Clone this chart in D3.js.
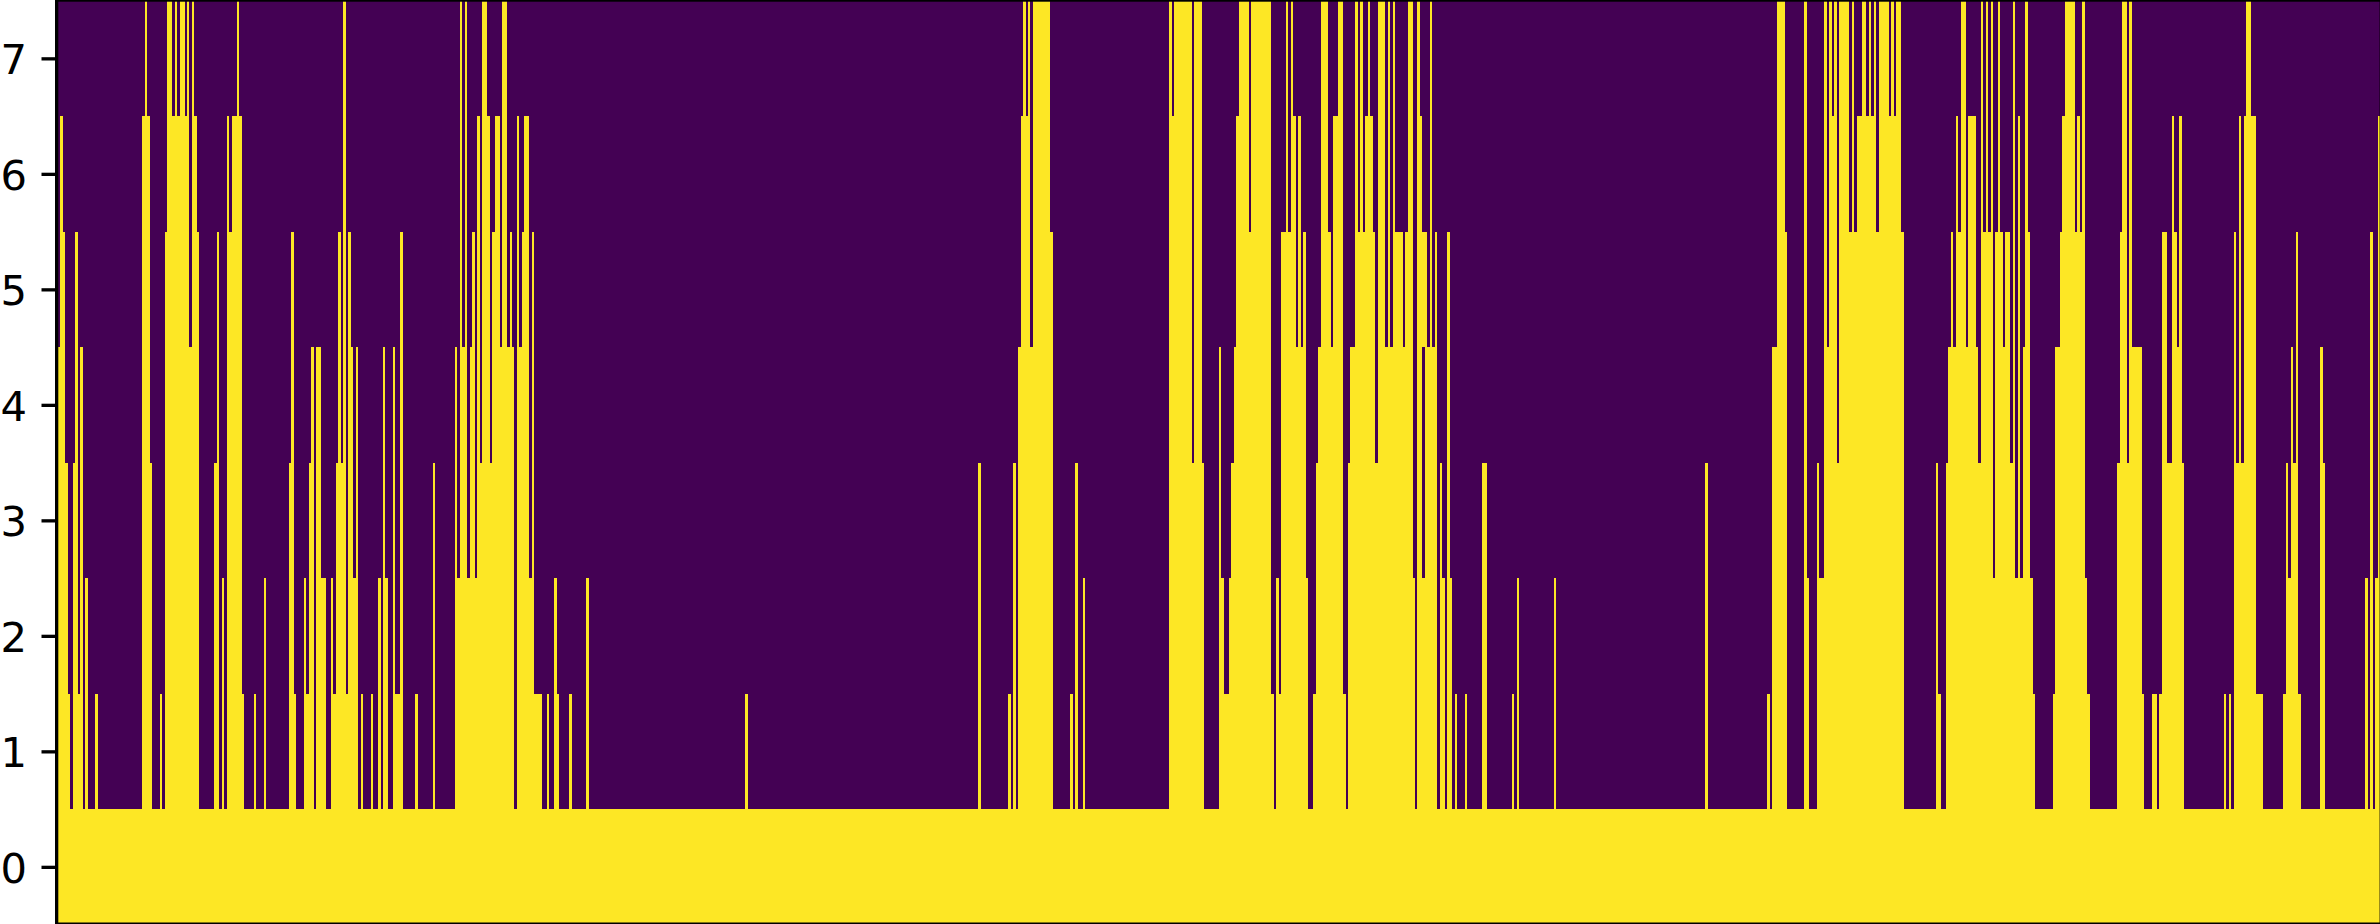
<!DOCTYPE html>
<html>
<head>
<meta charset="utf-8">
<script src="https://cdn.jsdelivr.net/npm/d3@7"></script>
<style>
html,body{margin:0;padding:0;background:#fff;overflow:hidden}
svg{display:block}
</style>
</head>
<body>
<div id="chart"></div>
<script>
// Binary matrix: number of columns, and for each row the runs [first, end) of "on" columns.
const columnCount = 936;
const rowTicks = [0,1,2,3,4,5,6,7];
const offOnColors = ["#440154","#fde725"];

const row0 = [[0,936]];
const row1 = [[0,5],[6,10],[11,12],[15,16],[34,38],[41,42],[43,57],[63,65],[66,67],[68,75],[79,80],[83,84],[93,96],[99,103],[104,108],[110,121],[122,123],[126,127],[129,130],[131,133],[135,139],[144,145],[151,152],[160,184],[185,195],[197,198],[200,202],[206,207],[213,214],[277,278],[371,372],[383,384],[385,386],[387,401],[408,409],[410,411],[413,414],[448,462],[468,490],[491,504],[506,519],[520,547],[548,556],[557,559],[560,562],[563,564],[567,568],[574,576],[586,587],[588,589],[603,604],[664,665],[689,690],[691,697],[704,706],[709,744],[757,759],[761,797],[804,819],[830,841],[844,846],[847,857],[873,874],[875,876],[877,889],[897,904],[912,914],[930,931],[932,933],[934,936]];
const row2 = [[0,4],[6,8],[9,10],[11,12],[34,38],[43,57],[63,65],[66,67],[68,74],[83,84],[93,95],[99,100],[101,103],[104,108],[110,111],[112,116],[117,121],[129,130],[131,133],[135,136],[138,139],[151,152],[160,184],[185,192],[200,201],[213,214],[371,372],[385,386],[387,401],[410,411],[413,414],[448,462],[468,470],[472,489],[491,492],[493,504],[507,518],[520,547],[548,556],[557,559],[560,562],[574,576],[588,589],[603,604],[664,665],[691,697],[704,706],[709,744],[757,758],[761,796],[805,818],[830,840],[848,857],[877,886],[898,903],[912,914],[930,931],[932,933],[934,936]];
const row3 = [[0,4],[6,8],[9,10],[34,38],[43,57],[63,65],[68,74],[93,95],[101,103],[104,106],[112,116],[117,119],[120,121],[131,132],[135,136],[138,139],[151,152],[160,161],[162,165],[166,168],[169,184],[185,190],[191,192],[371,372],[385,386],[387,401],[410,411],[448,462],[468,469],[473,489],[493,503],[507,518],[520,546],[548,550],[551,556],[557,558],[560,561],[574,576],[664,665],[691,697],[704,705],[709,710],[712,744],[757,758],[761,780],[781,789],[790,791],[792,795],[805,817],[830,840],[848,857],[877,886],[898,899],[900,903],[912,914],[932,933],[935,936]];
const row4 = [[0,3],[7,8],[9,10],[34,37],[43,57],[64,65],[68,74],[94,95],[102,103],[104,106],[113,114],[115,116],[117,119],[120,121],[131,132],[135,136],[138,139],[160,161],[162,165],[166,168],[169,170],[171,174],[175,184],[185,190],[191,192],[387,401],[448,457],[458,461],[468,469],[474,489],[493,503],[508,518],[521,531],[532,546],[548,550],[551,556],[560,561],[691,697],[704,705],[712,717],[718,744],[762,774],[775,780],[781,787],[788,789],[790,791],[792,795],[805,817],[831,834],[835,840],[848,850],[852,856],[877,878],[879,880],[881,886],[900,901],[902,903],[912,913],[932,933],[935,936]];
const row5 = [[1,3],[7,8],[34,37],[43,53],[54,57],[64,65],[68,74],[94,95],[113,114],[115,116],[117,118],[138,139],[162,163],[164,165],[167,168],[169,170],[171,174],[175,178],[179,181],[182,183],[185,186],[187,190],[191,192],[388,392],[393,401],[448,457],[458,461],[475,489],[493,499],[500,501],[502,503],[509,513],[514,518],[523,531],[532,535],[536,537],[538,542],[543,546],[548,552],[553,554],[555,556],[560,561],[693,697],[704,705],[712,713],[714,717],[718,744],[763,764],[765,769],[770,773],[775,780],[781,784],[785,787],[788,789],[790,791],[793,795],[807,817],[831,834],[835,836],[848,850],[852,854],[855,856],[877,878],[879,880],[881,886],[902,903],[932,933],[935,936]];
const row6 = [[1,2],[34,37],[44,53],[54,56],[68,69],[70,74],[115,116],[162,163],[164,165],[169,170],[171,174],[176,178],[179,181],[185,186],[188,190],[388,392],[393,400],[448,457],[458,461],[475,480],[481,489],[495,496],[497,499],[500,501],[509,512],[514,518],[523,524],[525,526],[527,530],[532,535],[536,537],[538,539],[544,546],[548,550],[553,554],[693,696],[704,705],[712,713],[714,717],[718,722],[723,724],[725,733],[734,743],[765,766],[767,769],[770,773],[775,776],[777,778],[779,780],[782,783],[788,789],[790,791],[793,794],[808,813],[814,815],[816,817],[832,834],[835,836],[852,853],[855,856],[879,880],[881,886],[935,936]];
const row7 = [[35,36],[44,46],[47,48],[49,51],[52,53],[54,55],[72,73],[115,116],[162,163],[164,165],[171,173],[179,181],[389,390],[391,392],[393,400],[448,449],[450,457],[458,461],[476,480],[481,489],[495,496],[497,498],[509,512],[516,518],[523,524],[525,526],[528,529],[532,535],[536,537],[538,539],[544,546],[548,549],[553,554],[693,696],[704,705],[712,713],[714,715],[716,717],[718,722],[723,724],[727,729],[730,731],[732,733],[734,738],[739,740],[741,743],[767,769],[775,776],[777,778],[779,780],[782,783],[788,789],[793,794],[809,813],[816,817],[832,834],[835,836],[882,884]];

const rows = [row0,row1,row2,row3,row4,row5,row6,row7];

const W = 2380, H = 924;
const x = d3.scaleLinear().domain([0, columnCount]).range([58, 2380]);
const y = d3.scaleLinear().domain([-0.5, 7.5]).range([924.6, 0.6]);
const color = d3.scaleOrdinal().domain([0,1]).range(offOnColors);

const svg = d3.select("#chart").append("svg").attr("width", W).attr("height", H);

// off background
svg.append("rect")
  .attr("x", x(0)).attr("y", y(7.5))
  .attr("width", x(columnCount) - x(0)).attr("height", y(-0.5) - y(7.5))
  .attr("fill", color(0));

// on cells
const cells = rows.flatMap((runs, r) => runs.map(([a, b]) => ({r, a, b})));
svg.append("g").attr("shape-rendering", "crispEdges")
  .selectAll("rect").data(cells).join("rect")
  .attr("x", d => x(d.a))
  .attr("width", d => x(d.b) - x(d.a))
  .attr("y", d => y(d.r + 0.5))
  .attr("height", d => y(d.r - 0.5) - y(d.r + 0.5))
  .attr("fill", color(1));

// spines
const spine = 3.3;
const spines = svg.append("g").attr("fill", "#000");
spines.append("rect").attr("x", 55).attr("y", 0).attr("width", spine).attr("height", H);
spines.append("rect").attr("x", 55).attr("y", -1.6).attr("width", W).attr("height", spine);
spines.append("rect").attr("x", 55).attr("y", H - 1.5).attr("width", W).attr("height", spine);
spines.append("rect").attr("x", W - 0.4).attr("y", 0).attr("width", spine).attr("height", H);

// y axis
const axis = d3.axisLeft(y).tickValues(rowTicks).tickFormat(d3.format("d"))
  .tickSize(14.6).tickPadding(14.6);
const gy = svg.append("g").attr("transform", "translate(56.1,0)").call(axis);
gy.select(".domain").remove();
gy.selectAll(".tick line").attr("stroke", "#000").attr("stroke-width", 3.3);
gy.selectAll(".tick text")
  .attr("fill", "#000")
  .attr("font-family", "'DejaVu Sans', sans-serif")
  .attr("font-size", "41.67px")
  .attr("dy", "0.37em");
</script>
</body>
</html>
